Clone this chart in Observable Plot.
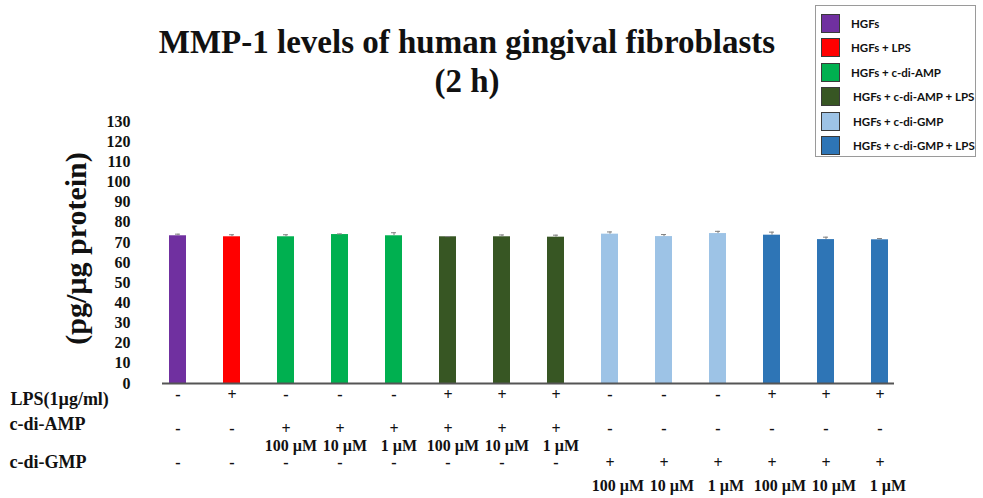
<!DOCTYPE html>
<html>
<head>
<meta charset="utf-8">
<script src="https://cdn.jsdelivr.net/npm/d3@7"></script>
<script src="https://cdn.jsdelivr.net/npm/@observablehq/plot@0.6"></script>
<style>
  html, body { margin: 0; padding: 0; background: #fff; }
  #wrap { position: relative; width: 983px; height: 498px; overflow: hidden; }
  #title { position: absolute; left: 0; width: 934px; top: 23px; text-align: center;
    font-family: "Liberation Serif", serif; font-weight: bold; font-size: 33px; line-height: 39px; color: #111; }
  #legend { position: absolute; left: 815px; top: 5px; width: 161px; height: 152px;
    border: 1px solid #9a9a9a; box-sizing: border-box; background: #fff; }
  .li { position: absolute; left: 5px; height: 20px; display: flex; align-items: center;
    font-family: Lato, "Liberation Sans", sans-serif; font-weight: bold; font-size: 11.5px; color: #111; white-space: nowrap; }
  .sw { width: 19px; height: 19px; border: 1px solid #3a3a3a; box-sizing: border-box; margin-right: 11px; }
</style>
</head>
<body>
<div id="wrap"></div>
<script>
// ---- data ----
const legendLabels = ["HGFs", "HGFs + LPS", "HGFs + c-di-AMP", "HGFs + c-di-AMP + LPS", "HGFs + c-di-GMP", "HGFs + c-di-GMP + LPS"];
const legendColors = ["#7030A0", "#FF0000", "#00B050", "#375623", "#9DC3E6", "#2E75B6"];
const groups = ["HGFs", "HGFs + LPS",
  "HGFs + c-di-AMP", "HGFs + c-di-AMP", "HGFs + c-di-AMP",
  "HGFs + c-di-AMP + LPS", "HGFs + c-di-AMP + LPS", "HGFs + c-di-AMP + LPS",
  "HGFs + c-di-GMP", "HGFs + c-di-GMP", "HGFs + c-di-GMP",
  "HGFs + c-di-GMP + LPS", "HGFs + c-di-GMP + LPS", "HGFs + c-di-GMP + LPS"];
const values = [73.3, 72.8, 72.8, 73.9, 73.3, 72.8, 72.8, 72.6, 74.1, 72.9, 74.4, 73.6, 71.4, 71.3];
const errors = [0.8, 1.0, 1.0, 0.3, 1.5, 0.1, 0.9, 1.0, 1.1, 1.0, 1.1, 1.5, 1.2, 0.6];
const lps = ["-", "+", "-", "-", "-", "+", "+", "+", "-", "-", "-", "+", "+", "+"];
const amp = ["-", "-", "+", "+", "+", "+", "+", "+", "-", "-", "-", "-", "-", "-"];
const ampConc = ["", "", "100 µM", "10 µM", "1 µM", "100 µM", "10 µM", "1 µM", "", "", "", "", "", ""];
const gmp = ["-", "-", "-", "-", "-", "-", "-", "-", "+", "+", "+", "+", "+", "+"];
const gmpConc = ["", "", "", "", "", "", "", "", "100 µM", "10 µM", "1 µM", "100 µM", "10 µM", "1 µM"];
const rowLabels = ["LPS(1µg/ml)", "c-di-AMP", "c-di-GMP"];
const yTicks = [0, 10, 20, 30, 40, 50, 60, 70, 80, 90, 100, 110, 120, 130];
const titleLines = ["MMP-1 levels of human gingival fibroblasts", "(2 h)"];
const yLabel = "(pg/µg protein)";

const data = values.map((v, i) => ({
  id: i, group: groups[i], value: v, err: errors[i],
  lps: lps[i], amp: amp[i], ampConc: ampConc[i], gmp: gmp[i], gmpConc: gmpConc[i]
}));

const serif = "Liberation Serif, Times New Roman, serif";
const txt = { fontWeight: "bold", fill: "#111", fontFamily: serif };

const chart = Plot.plot({
  width: 983,
  height: 498,
  marginTop: 121,
  marginBottom: 115,
  marginLeft: 162,
  marginRight: 89,
  style: { fontFamily: serif, background: "transparent" },
  x: { domain: d3.range(values.length), paddingInner: 0.69, paddingOuter: 0, axis: null },
  y: { domain: [0, 130], ticks: yTicks, label: null },
  color: { domain: legendLabels, range: legendColors },
  marks: [
    Plot.axisY({ ticks: yTicks, tickSize: 0, tickPadding: 32, fontSize: 16, fontWeight: "bold", label: null, fill: "#111", fontFamily: serif }),
    Plot.barY(data, { x: "id", y: "value", fill: "group" }),
    Plot.ruleX(data, { x: "id", y1: "value", y2: d => d.value + d.err, stroke: "#7f7f7f", strokeWidth: 1 }),
    Plot.tickY(data, { x: "id", y: d => d.value + d.err, stroke: "#7f7f7f", strokeWidth: 1, insetLeft: 6, insetRight: 6 }),
    Plot.ruleY([0], { stroke: "#555", strokeWidth: 2 }),
    // rotated y label
    Plot.text([yLabel], { frameAnchor: "left", textAnchor: "middle", rotate: -90, dx: -86, dy: -4, fontSize: 30, ...txt }),
    // row labels
    Plot.text([rowLabels[0]], { frameAnchor: "bottom-left", dx: -152, dy: 21, textAnchor: "start", fontSize: 18, ...txt }),
    Plot.text([rowLabels[1]], { frameAnchor: "bottom-left", dx: -153, dy: 46, textAnchor: "start", fontSize: 18, ...txt }),
    Plot.text([rowLabels[2]], { frameAnchor: "bottom-left", dx: -153, dy: 84, textAnchor: "start", fontSize: 18, ...txt }),
    // +/- rows
    Plot.text(data, { x: "id", frameAnchor: "bottom", text: "lps", dy: 16, fontSize: 16, ...txt }),
    Plot.text(data, { x: "id", frameAnchor: "bottom", text: "amp", dy: 50, fontSize: 16, ...txt }),
    Plot.text(data, { x: "id", frameAnchor: "bottom", text: "ampConc", dx: 5, dy: 67, fontSize: 16, ...txt }),
    Plot.text(data, { x: "id", frameAnchor: "bottom", text: "gmp", dy: 84, fontSize: 16, ...txt }),
    Plot.text(data, { x: "id", frameAnchor: "bottom", text: "gmpConc", dx: 8, dy: 107, fontSize: 16, ...txt })
  ]
});

const wrap = document.getElementById("wrap");
wrap.appendChild(chart);

const title = document.createElement("div");
title.id = "title";
titleLines.forEach(t => { const d = document.createElement("div"); d.textContent = t; title.appendChild(d); });
wrap.appendChild(title);

const legend = document.createElement("div");
legend.id = "legend";
legendLabels.forEach((lab, i) => {
  const item = document.createElement("div");
  item.className = "li";
  item.style.top = (7 + i * 24.5) + "px";
  const sw = document.createElement("div");
  sw.className = "sw";
  sw.style.background = legendColors[i];
  if (i >= 3) sw.style.marginRight = "13px";
  const tx = document.createElement("span");
  tx.textContent = lab;
  item.appendChild(sw); item.appendChild(tx);
  legend.appendChild(item);
});
wrap.appendChild(legend);
</script>
</body>
</html>
